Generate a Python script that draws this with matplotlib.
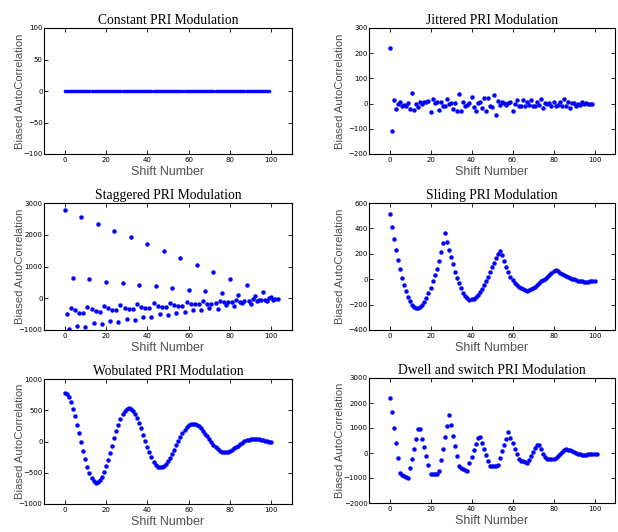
import matplotlib
matplotlib.use("Agg")
import matplotlib.pyplot as plt
import numpy as np

# ---------------- data ----------------
constant_x = list(range(0, 100))
constant_y = [0.5, -0.3, 0.4, 0.2, -0.4, 0.6, 0.1, -0.2, 0.5, 0.0,
              0.3, -0.5, 0.4, 0.1, 0.2, -0.3, 0.6, 0.0, 0.3, -0.2,
              0.5, 0.4, -0.1, 0.2, 0.3, -0.4, 0.1, 0.5, 0.0, -0.2,
              0.4, 0.2, -0.3, 0.5, 0.1, 0.0, 0.3, -0.2, 0.4, 0.2,
              -0.1, 0.5, 0.0, 0.3, -0.3, 0.4, 0.1, 0.2, -0.2, 0.5,
              0.0, 0.3, 0.1, -0.4, 0.5, 0.2, 0.0, 0.3, -0.2, 0.4,
              0.1, 0.2, -0.3, 0.5, 0.0, 0.1, 0.4, -0.2, 0.3, 0.5,
              -0.1, 0.2, 0.0, 0.4, -0.3, 0.1, 0.5, 0.2, -0.2, 0.3,
              0.0, 0.4, 0.1, -0.3, 0.5, 0.2, 0.0, 0.3, -0.2, 0.4,
              0.1, 0.2, -0.1, 0.5, 0.0, 0.3, -0.3, 0.4, 0.1, -0.4]

jitter_x = list(range(0, 100))
jitter_y = [221, -107, 15, -22, 0, 7, -8, -4, -8, 3,
            -20, 41, -24, -1, -14, 5, -1, 7, 5, 9,
            -33, 20, 3, 5, -24, 5, -11, -11, 20, -1,
            4, -21, 4, -29, 38, -28, 7, -9, -4, 4,
            25, -14, -30, 4, 7, -16, 22, -28, 22, -11,
            -14, 34, -44, 12, -4, 5, 1, -4, 3, 5,
            -28, 0, 15, -8, -11, 15, -11, 8, -4, 13,
            -11, -11, 5, -4, 19, -17, 3, 0, 1, -8,
            5, -8, -7, 8, -11, 17, -11, 7, -16, 3,
            1, -8, -1, -5, 5, -1, 1, -1, -3, -1]

stagger_x = list(range(0, 104))
stagger_y = [2766, -500, -979, -298, 638, -372, -862, -457,
             2564, -457, -894, -266, 596, -340, -787, -415,
             2340, -447, -809, -234, 521, -319, -723, -383,
             2128, -383, -745, -202, 468, -298, -649, -340,
             1915, -340, -670, -191, 426, -266, -585, -319,
             1702, -319, -606, -160, 383, -234, -511, -266,
             1479, -266, -532, -138, 330, -223, -457, -245,
             1266, -245, -436, -128, 255, -191, -372, -191,
             1043, -191, -383, -96, 213, -170, -298, -170,
             830, -160, -330, -74, 170, -128, -223, -128,
             617, -128, -234, -64, 117, -128, -160, -74,
             404, -85, -170, -32, 74, -85, -64, -43,
             202, -64, -96, 0, 43, -53, -11, -11]

sliding_x = list(range(0, 101))
sliding_y = [510, 414, 318, 229, 148, 78, 13, -44, -96, -138,
             -174, -200, -221, -229, -229, -221, -203, -177, -148, -109,
             -68, -16, 31, 83, 143, 211, 288, 365, 293, 229,
             172, 117, 55, 13, -31, -73, -107, -130, -151, -161,
             -158, -154, -141, -128, -104, -78, -49, -16, 21, 55,
             94, 130, 167, 200, 222, 188, 143, 96, 55, 21,
             -8, -31, -49, -62, -73, -81, -86, -89, -86, -81,
             -73, -62, -47, -31, -16, -8, 3, 16, 34, 52,
             68, 74, 62, 52, 42, 33, 25, 18, 10, 4,
             -2, -7, -11, -15, -18, -20, -21, -20, -17, -14,
             -12]

wobul_x = list(range(0, 101))
wobul_y = [777, 761, 713, 633, 527, 404, 271, 133, -11, -154,
           -287, -410, -505, -580, -638, -665, -653, -619, -564, -490,
           -399, -294, -183, -65, 53, 164, 269, 360, 434, 489,
           523, 535, 525, 494, 445, 379, 299, 209, 112, 13,
           -84, -174, -254, -320, -369, -400, -410, -403, -384, -352,
           -309, -256, -195, -131, -63, 6, 70, 131, 184, 227,
           259, 278, 285, 280, 265, 242, 210, 171, 128, 81,
           34, -13, -56, -95, -127, -150, -165, -170, -167, -160,
           -147, -130, -110, -88, -64, -40, -18, 2, 19, 32,
           39, 42, 41, 38, 33, 27, 20, 12, 5, -2,
           -8]

dwell_x = list(range(0, 102))
dwell_y = [2220, 1630, 1010, 400, -205, -787, -880, -930, -950, -985,
           -580, -238, 146, 555, 945, 945, 580, 225, -130, -483,
           -820, -820, -820, -820, -735, -298, 146, 648, 1090, 1530,
           1115, 695, 298, -105, -530, -617, -643, -669, -700, -410,
           -152, 106, 377, 615, 622, 390, 144, -79, -302, -525,
           -525, -525, -525, -472, -184, 66, 328, 564, 840, 617,
           394, 171, -52, -249, -302, -328, -354, -407, -289, -118,
           39, 197, 315, 315, 144, -26, -157, -223, -240, -245,
           -240, -197, -131, -39, 39, 105, 157, 131, 105, 66,
           39, 0, -39, -52, -66, -66, -66, -52, -39, -26,
           -26, -26]

titles = ["Constant PRI Modulation", "Jittered PRI Modulation",
          "Staggered PRI Modulation", "Sliding PRI Modulation",
          "Wobulated PRI Modulation", "Dwell and switch PRI Modulation"]
yticks_list = [[-100, -50, 0, 50, 100],
               [-200, -100, 0, 100, 200, 300],
               [-1000, 0, 1000, 2000, 3000],
               [-400, -200, 0, 200, 400, 600],
               [-1000, -500, 0, 500, 1000],
               [-2000, -1000, 0, 1000, 2000, 3000]]
xticks = [0, 20, 40, 60, 80, 100]
xlabel = "Shift Number"
ylabel = "Biased AutoCorrelation"

series = [(constant_x, constant_y), (jitter_x, jitter_y), (stagger_x, stagger_y),
          (sliding_x, sliding_y), (wobul_x, wobul_y), (dwell_x, dwell_y)]

# ---------------- layout ----------------
W, H = 618, 532
fig = plt.figure(figsize=(W / 100, H / 100), dpi=100)
fig.patch.set_facecolor("white")

boxes = [(44, 28, 248, 126), (369, 28, 246, 126),
         (44, 203, 248, 127), (369, 203, 246, 127),
         (44, 379, 248, 125), (369, 378, 246, 125)]
label_gap = [19, 24, 19, 24, 19, 24]

for i, ((xs, ys), (bx, by, bw, bh)) in enumerate(zip(series, boxes)):
    ax = fig.add_axes([bx / W, 1 - (by + bh) / H, bw / W, bh / H])
    ms = 2.6 if i == 0 else 3.2
    ax.plot(xs, ys, linestyle="none", marker="o", markersize=ms,
            markeredgewidth=0, color="#0000ff")
    yt = yticks_list[i]
    ax.set_xlim(-10, 110)
    ax.set_ylim(yt[0], yt[-1])
    ax.set_xticks(xticks)
    ax.set_yticks(yt)
    ax.tick_params(direction="in", length=3, width=0.6, top=True, right=True,
                   labelsize=5, pad=2, labelcolor="black")
    ax.tick_params(axis="y", pad=1)
    for sp in ax.spines.values():
        sp.set_linewidth(0.8)
    ax.set_title(titles[i], family="Liberation Serif", fontsize=9.8, pad=3)
    ax.set_xlabel(xlabel, family="Liberation Sans", fontsize=9,
                  color="#505050", labelpad=2)
    ax.set_ylabel(ylabel, family="Liberation Sans", fontsize=8.1,
                  color="#505050")
    ax.yaxis.set_label_coords(-label_gap[i] / bw, 0.5)

fig.savefig("out.png", dpi=100)
